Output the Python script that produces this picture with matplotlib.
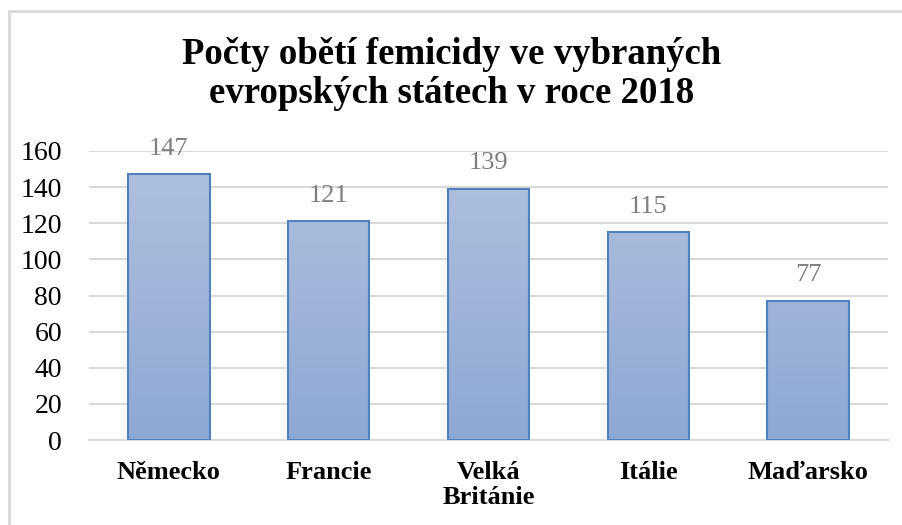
import numpy as np
import matplotlib.pyplot as plt
from matplotlib.colors import LinearSegmentedColormap
from matplotlib.patches import Rectangle

# data
countries = ['Německo', 'Francie', 'Velká\nBritánie', 'Itálie', 'Maďarsko']
victims = [147, 121, 139, 115, 77]
yticks = [0, 20, 40, 60, 80, 100, 120, 140, 160]

plt.rcParams['font.family'] = ['Liberation Serif', 'DejaVu Serif']

fig = plt.figure(figsize=(9.03, 5.25), dpi=100)
ax = fig.add_axes([89 / 903, 1 - 440 / 525, 799 / 903, 289 / 525])

# light grey outer frame (chart area border)
fig.patches.append(Rectangle((8.5 / 903, -0.1), 1.2, 1 - 11.5 / 525 + 0.1,
                             transform=fig.transFigure, fill=False,
                             edgecolor='#d9d9d9', linewidth=2, zorder=0))

x = np.arange(len(countries))
bars = ax.bar(x, victims, width=0.51, facecolor='none', edgecolor='#4f81bd',
              linewidth=1.5, zorder=3)

grad_cmap = LinearSegmentedColormap.from_list('g', ['#8ea8d4', '#b0c1de'])
grad = np.linspace(0, 1, 256).reshape(-1, 1)
for b in bars:
    x0, w = b.get_x(), b.get_width()
    im = ax.imshow(grad, cmap=grad_cmap, origin='lower', aspect='auto',
                   extent=(x0, x0 + w, 0, 160), zorder=2)
    im.set_clip_path(b)

for xi, v in zip(x, victims):
    ax.annotate(str(v), (xi, v), xytext=(0, 14), textcoords='offset points',
                ha='center', va='baseline', fontsize=19, color='#7f7f7f')

ax.set_xlim(-0.5, len(countries) - 0.5)
ax.set_ylim(0, 160)
ax.set_yticks(yticks)
ax.set_xticks(x)
ax.set_xticklabels(countries, fontsize=19, fontweight='bold', linespacing=1.1)
ax.tick_params(axis='y', labelsize=20, length=0, pad=19.5)
ax.tick_params(axis='x', length=0, pad=15)
ax.grid(axis='y', color='#d9d9d9', linewidth=1.5, zorder=0)
ax.set_axisbelow(True)
for s in ['top', 'right', 'left']:
    ax.spines[s].set_visible(False)
ax.spines['bottom'].set_color('#d9d9d9')
ax.spines['bottom'].set_linewidth(1.5)

fig.text(0.5, 1 - 74 / 525, 'Počty obětí femicidy ve vybraných\nevropských státech v roce 2018',
         ha='center', va='center', fontsize=26.5, fontweight='bold', linespacing=1.15)

fig.savefig('out.png', dpi=100)
